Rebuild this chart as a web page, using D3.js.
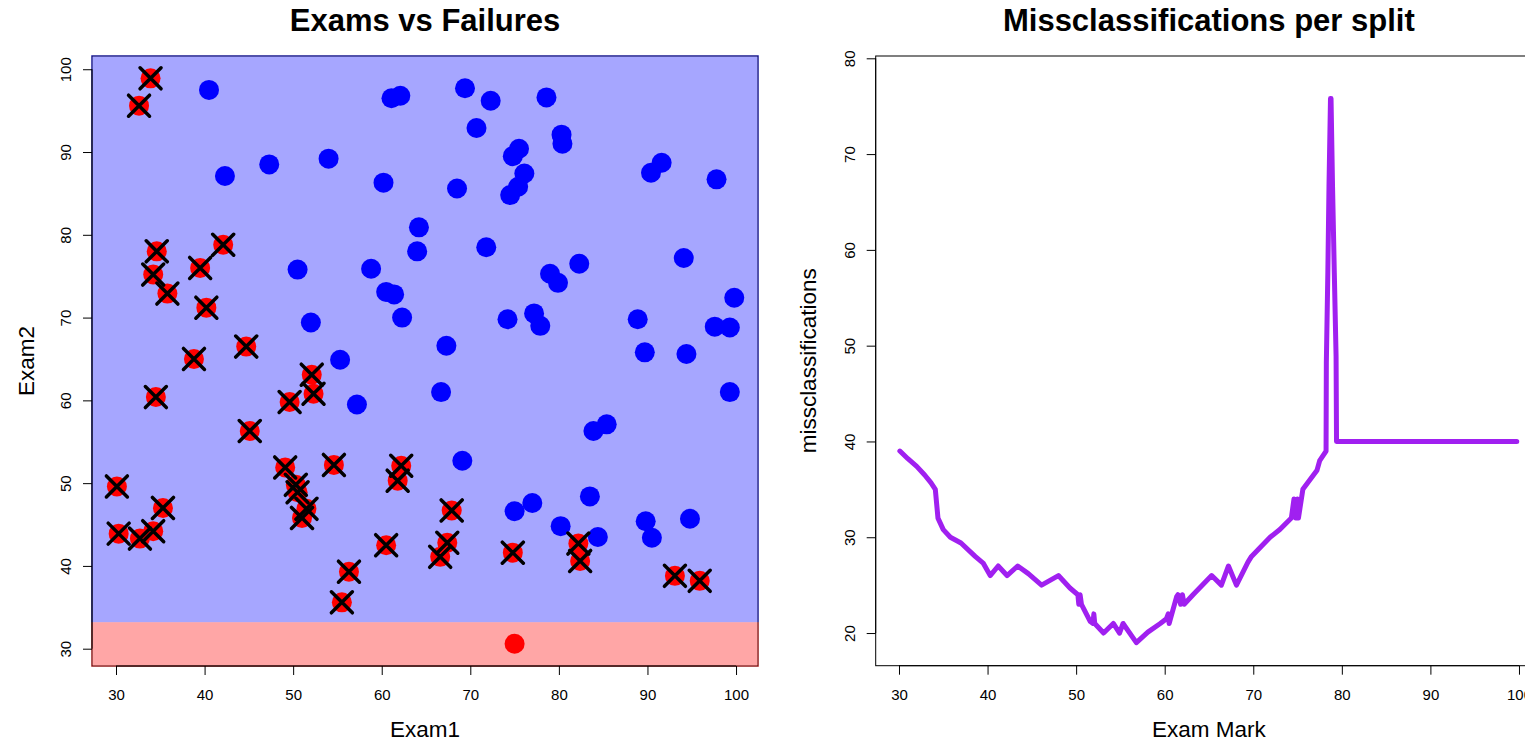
<!DOCTYPE html>
<html>
<head>
<meta charset="utf-8">
<script src="https://cdn.jsdelivr.net/npm/d3@7"></script>
<style>
  body { margin: 0; background: #fff; }
  svg { display: block; font-family: "Liberation Sans", Arial, sans-serif; }
</style>
</head>
<body>
<svg></svg>
<script>
// exam marks (1 = passed / blue, 0 = failed / red)
const exam1 = [34.6,30.3,35.8,60.2,79.0,45.1,61.1,75.0,76.1,84.4,95.9,75.0,82.3,69.4,39.5,54.0,69.1,67.9,70.7,77.0,
  67.4,89.7,50.5,34.2,77.9,62.3,80.2,93.1,61.8,38.8,61.4,85.4,52.1,52.0,40.2,54.6,33.9,64.2,74.8,34.2,
  83.9,51.5,94.4,82.4,51.0,62.2,77.2,97.8,62.1,91.6,79.9,99.3,90.5,34.5,50.3,49.6,97.6,32.6,74.2,71.8,
  75.4,35.3,56.3,30.1,44.7,66.6,40.5,49.1,80.3,66.7,32.7,64.0,72.3,60.5,58.8,99.8,47.3,50.5,60.5,82.2,
  88.9,94.8,67.3,57.2,80.4,68.5,42.1,75.5,78.6,52.3,94.1,90.4,55.5,74.5,89.8,83.5,42.3,99.3,55.3,74.8];
const exam2 = [78.0,43.9,72.9,86.3,75.3,56.3,96.5,46.6,87.4,43.5,38.2,30.6,76.5,97.7,76.0,89.2,52.7,46.7,92.9,47.6,
  42.8,65.8,48.9,44.2,69.0,70.0,44.8,38.8,50.3,65.0,72.8,57.1,63.1,69.4,71.2,52.2,98.9,80.9,41.6,75.2,
  56.3,46.9,65.6,40.6,45.8,52.1,70.5,86.7,96.8,88.7,74.2,61.0,43.4,60.4,49.8,59.8,68.9,95.6,69.8,78.5,
  85.8,47.0,39.3,49.6,66.5,41.1,97.5,51.9,92.1,61.0,43.3,78.0,96.2,73.1,75.9,72.4,88.5,75.8,42.5,42.7,
  69.8,45.7,66.6,59.5,91.0,85.6,78.8,90.4,96.6,60.8,77.2,87.5,35.6,84.8,45.4,48.4,87.1,68.8,64.9,89.5];
const passed = [0,0,0,1,1,0,1,1,1,1,0,0,1,1,0,1,1,0,1,1,
  0,1,0,0,1,1,1,0,0,0,1,1,0,1,0,0,0,1,0,0,
  1,0,1,0,0,0,1,1,1,1,1,1,1,0,0,0,1,0,1,1,
  1,0,0,0,0,0,1,0,1,1,0,1,1,1,1,1,1,1,0,0,
  1,1,1,1,1,1,0,1,1,0,1,1,0,1,1,1,1,1,1,1];
const boundary = 33.2;   // Exam2 split shown as the red band

// misclassifications curve
const splitMark = [30.1,31.0,32.0,32.9,33.6,34.1,34.3,34.4,35.0,35.8,37.0,38.6,39.5,40.3,41.2,42.2,43.4,44.6,46.1,48.0,
  49.3,50.2,50.3,50.45,50.6,51.6,51.9,52.0,52.1,53.1,54.2,54.9,55.3,56.8,58.1,59.5,60.2,60.4,60.5,61.35,
  61.5,61.8,62.0,62.2,63.2,65.3,66.4,67.2,68.1,69.4,69.8,71.9,73.0,74.3,74.6,74.8,75.0,75.1,75.6,76.4,
  77.2,77.5,78.22,78.25,78.42,78.55,78.72,78.78,78.95,79.15,79.35,79.4,99.75];
const missCount = [39,38.2,37.4,36.5,35.7,35,33,32,30.8,30,29.4,28,27.3,26,27,26,27,26.2,25,26,
  24.7,24,23,24,23,21.2,21,22,21,20,21,20,21,19,20.1,21,21.5,22,21,23.8,
  24,23,24,23,24,26,25,27,25,27.4,28,30,30.8,32,34,32,34,32,35,36,
  37,38,39,48.2,57.6,66.6,75.8,75.8,66.6,57.6,48.9,40,40];

const markTicks = [30, 40, 50, 60, 70, 80, 90, 100];
const missTicks = [20, 30, 40, 50, 60, 70, 80];

const width = 1525;
const height = 741;

const svg = d3.select('svg')
  .attr('width', width)
  .attr('height', height);

const students = exam1.map((e, i) => ({ e1: e, e2: exam2[i], pass: passed[i] }));

// ---------- left panel ----------
const x1 = d3.scaleLinear().domain([27.29, 102.48]).range([92, 758]);
const y1 = d3.scaleLinear().domain([27.91, 101.6]).range([666, 56]);

svg.append('rect')
  .attr('x', x1.range()[0]).attr('y', y1.range()[1])
  .attr('width', x1.range()[1] - x1.range()[0])
  .attr('height', y1.range()[0] - y1.range()[1])
  .attr('fill', 'none').attr('stroke', '#000');

// classification regions, drawn over the box like R's transparent rect
svg.append('rect')
  .attr('x', x1.range()[0] - 1).attr('y', y1.range()[1] - 1)
  .attr('width', x1.range()[1] - x1.range()[0] + 2)
  .attr('height', y1(boundary) - y1.range()[1] + 1)
  .attr('fill', 'rgb(0,0,255)').attr('fill-opacity', 0.35);

svg.append('rect')
  .attr('x', x1.range()[0] - 1).attr('y', y1(boundary))
  .attr('width', x1.range()[1] - x1.range()[0] + 2)
  .attr('height', y1.range()[0] - y1(boundary) + 1)
  .attr('fill', 'rgb(255,0,0)').attr('fill-opacity', 0.35);

svg.append('g')
  .selectAll('circle')
  .data(students)
  .enter()
  .append('circle')
  .attr('cx', d => x1(d.e1))
  .attr('cy', d => y1(d.e2))
  .attr('r', 10)
  .attr('fill', d => d.pass ? '#0000ff' : '#ff0000');

// failed students that fall in the "pass" region get a cross
svg.append('g')
  .selectAll('path')
  .data(students.filter(d => !d.pass && d.e2 > boundary))
  .enter()
  .append('path')
  .attr('transform', d => `translate(${x1(d.e1)},${y1(d.e2)})`)
  .attr('d', 'M-10.5,-10.5L10.5,10.5M-10.5,10.5L10.5,-10.5')
  .attr('stroke', '#000')
  .attr('stroke-width', 3.5)
  .attr('stroke-linecap', 'round');

drawAxes(x1, y1, markTicks, markTicks);

svg.append('text')
  .attr('x', (x1.range()[0] + x1.range()[1]) / 2).attr('y', 31)
  .attr('text-anchor', 'middle')
  .style('font-size', '31px').style('font-weight', 'bold')
  .text('Exams vs Failures');

svg.append('text')
  .attr('x', (x1.range()[0] + x1.range()[1]) / 2).attr('y', 737)
  .attr('text-anchor', 'middle')
  .style('font-size', '22.5px')
  .text('Exam1');

svg.append('text')
  .attr('transform', `translate(34,${(y1.range()[0] + y1.range()[1]) / 2}) rotate(-90)`)
  .attr('text-anchor', 'middle')
  .style('font-size', '22.5px')
  .text('Exam2');

// ---------- right panel ----------
const x2 = d3.scaleLinear().domain([27.37, 102.6]).range([875.7, 1542]);
const y2 = d3.scaleLinear().domain([16.59, 80.24]).range([665.7, 56]);

svg.append('rect')
  .attr('x', x2.range()[0]).attr('y', y2.range()[1])
  .attr('width', x2.range()[1] - x2.range()[0])
  .attr('height', y2.range()[0] - y2.range()[1])
  .attr('fill', 'none').attr('stroke', '#000');

const line = d3.line()
  .x(d => x2(d[0]))
  .y(d => y2(d[1]));

svg.append('path')
  .datum(splitMark.map((s, i) => [s, missCount[i]]))
  .attr('d', line)
  .attr('fill', 'none')
  .attr('stroke', '#a020f0')
  .attr('stroke-width', 5)
  .attr('stroke-linejoin', 'round')
  .attr('stroke-linecap', 'round');

drawAxes(x2, y2, markTicks, missTicks);

svg.append('text')
  .attr('x', (x2.range()[0] + x2.range()[1]) / 2).attr('y', 31)
  .attr('text-anchor', 'middle')
  .style('font-size', '31px').style('font-weight', 'bold')
  .text('Missclassifications per split');

svg.append('text')
  .attr('x', (x2.range()[0] + x2.range()[1]) / 2).attr('y', 737)
  .attr('text-anchor', 'middle')
  .style('font-size', '22.5px')
  .text('Exam Mark');

svg.append('text')
  .attr('transform', `translate(816,${(y2.range()[0] + y2.range()[1]) / 2}) rotate(-90)`)
  .attr('text-anchor', 'middle')
  .style('font-size', '22.5px')
  .text('missclassifications');

function drawAxes(x, y, xt, yt) {
  const bottom = y.range()[0];
  const left = x.range()[0];

  const gx = svg.append('g')
    .attr('transform', `translate(0,${bottom})`)
    .call(d3.axisBottom(x).tickValues(xt).tickSize(9).tickSizeOuter(0));
  gx.select('.domain').remove();
  gx.append('line')
    .attr('x1', x(xt[0])).attr('x2', x(xt[xt.length - 1]))
    .attr('stroke', '#000');
  gx.selectAll('.tick text')
    .attr('y', 34).attr('dy', 0)
    .style('font-size', '15px')
    .style('font-family', '"Liberation Sans", Arial, sans-serif');
  gx.attr('color', '#000');

  const gy = svg.append('g')
    .attr('transform', `translate(${left},0)`)
    .call(d3.axisLeft(y).tickValues(yt).tickSize(9).tickSizeOuter(0));
  gy.select('.domain').remove();
  gy.append('line')
    .attr('y1', y(yt[0])).attr('y2', y(yt[yt.length - 1]))
    .attr('stroke', '#000');
  gy.selectAll('.tick text')
    .attr('x', 0).attr('dy', 0)
    .attr('text-anchor', 'middle')
    .attr('transform', 'translate(-21,0) rotate(-90)')
    .style('font-size', '15px')
    .style('font-family', '"Liberation Sans", Arial, sans-serif');
  gy.attr('color', '#000');
}
</script>
</body>
</html>
